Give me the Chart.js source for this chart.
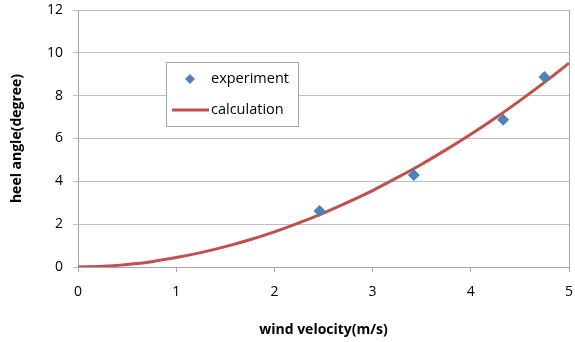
<!DOCTYPE html>
<html>
<head>
<meta charset="utf-8">
<script src="https://cdn.jsdelivr.net/npm/chart.js@4/dist/chart.umd.min.js"></script>
<style>
  html, body { margin: 0; padding: 0; background: #fff; }
  #wrap { width: 575px; height: 342px; }
</style>
</head>
<body>
<div id="wrap"><canvas id="c" width="575" height="342"></canvas></div>
<script>
// measured heel angle vs wind speed
const expVelocity = [2.46, 3.42, 4.33, 4.75];
const expHeel = [2.62, 4.29, 6.88, 8.87];

// calculated curve
const calcVelocity = [0, 0.25, 0.5, 0.75, 1, 1.25, 1.5, 1.75, 2, 2.25, 2.5, 2.75, 3, 3.25, 3.5, 3.75, 4, 4.25, 4.5, 4.75, 5];
const calcHeel = [0, 0.03, 0.12, 0.25, 0.44, 0.67, 0.95, 1.27, 1.64, 2.06, 2.52, 3.03, 3.57, 4.17, 4.8, 5.48, 6.2, 6.96, 7.77, 8.62, 9.52];

const xTicks = [0, 1, 2, 3, 4, 5];
const yTicks = [0, 2, 4, 6, 8, 10, 12];

const seriesNames = ['experiment', 'calculation'];

const FONT = '"Open Sans", Lato, sans-serif';
const BLUE = '#4f81bd';
const RED = '#c0504d';

const toXY = (xs, ys) => xs.map((x, i) => ({ x: x, y: ys[i] }));

// legend box drawn inside the plot area, plus the right-hand frame line
const insideLegend = {
  id: 'insideLegend',
  afterDraw(chart) {
    const ctx = chart.ctx;
    const area = chart.chartArea;
    ctx.save();
    // right frame
    ctx.strokeStyle = '#a6a6a6';
    ctx.lineWidth = 1;
    ctx.beginPath();
    ctx.moveTo(Math.round(area.right) + 0.5, area.top);
    ctx.lineTo(Math.round(area.right) + 0.5, area.bottom);
    ctx.stroke();

    const bx = 166, by = 62, bw = 132, bh = 64;
    ctx.fillStyle = '#ffffff';
    ctx.fillRect(bx, by, bw, bh);
    ctx.strokeStyle = '#a6a6a6';
    ctx.strokeRect(bx + 0.5, by + 0.5, bw, bh);

    const ds = chart.data.datasets;
    // diamond marker
    ctx.fillStyle = BLUE;
    const dx = 190, dy = 79, r = 5;
    ctx.beginPath();
    ctx.moveTo(dx, dy - r);
    ctx.lineTo(dx + r, dy);
    ctx.lineTo(dx, dy + r);
    ctx.lineTo(dx - r, dy);
    ctx.closePath();
    ctx.fill();
    // line marker
    ctx.strokeStyle = RED;
    ctx.lineWidth = 3;
    ctx.beginPath();
    ctx.moveTo(172, 110);
    ctx.lineTo(209, 110);
    ctx.stroke();

    ctx.fillStyle = '#000000';
    ctx.font = '14.5px ' + FONT;
    ctx.textBaseline = 'middle';
    ctx.textAlign = 'left';
    ctx.fillText(ds[0].label, 211, 79);
    ctx.fillText(ds[1].label, 211, 110);
    ctx.restore();
  }
};

new Chart(document.getElementById('c'), {
  type: 'scatter',
  data: {
    datasets: [
      {
        label: seriesNames[0],
        data: toXY(expVelocity, expHeel),
        pointStyle: 'rectRot',
        pointRadius: 6,
        backgroundColor: BLUE,
        borderColor: BLUE,
        borderWidth: 0,
        order: 0
      },
      {
        label: seriesNames[1],
        data: toXY(calcVelocity, calcHeel),
        showLine: true,
        cubicInterpolationMode: 'monotone',
        borderColor: RED,
        borderWidth: 3,
        pointRadius: 0,
        fill: false,
        order: 1
      }
    ]
  },
  options: {
    responsive: false,
    animation: false,
    layout: { padding: { top: 10, right: 5, left: 0, bottom: 0 } },
    plugins: {
      legend: { display: false },
      tooltip: { enabled: false }
    },
    scales: {
      x: {
        type: 'linear',
        min: 0,
        max: 5,
        afterBuildTicks: (s) => { s.ticks = xTicks.map(v => ({ value: v })); },
        afterFit: (s) => {
          s.height = 75;
          s.paddingLeft = 0;
          s.paddingRight = 0;
        },
        grid: {
          drawOnChartArea: false,
          drawTicks: true,
          tickLength: 5,
          color: '#a6a6a6'
        },
        border: { color: '#a6a6a6' },
        ticks: {
          padding: 12,
          color: '#000',
          font: { family: FONT, size: 14 }
        },
        title: {
          display: true,
          text: 'wind velocity(m/s)',
          color: '#000',
          font: { family: FONT, size: 14, weight: 'bold' },
          padding: { top: 20, bottom: 4 }
        }
      },
      y: {
        type: 'linear',
        min: 0,
        max: 12,
        afterBuildTicks: (s) => { s.ticks = yTicks.map(v => ({ value: v })); },
        afterFit: (s) => {
          s.width = 78;
          s.paddingTop = 0;
          s.paddingBottom = 0;
        },
        grid: {
          color: '#bfbfbf',
          tickLength: 5,
          drawTicks: true
        },
        border: { color: '#a6a6a6' },
        ticks: {
          padding: 10,
          color: '#000',
          font: { family: FONT, size: 14 }
        },
        title: {
          display: true,
          text: 'heel angle(degree)',
          color: '#000',
          font: { family: FONT, size: 14, weight: 'bold' },
          padding: { top: 9, bottom: 0 }
        }
      }
    }
  },
  plugins: [insideLegend]
});
</script>
</body>
</html>
